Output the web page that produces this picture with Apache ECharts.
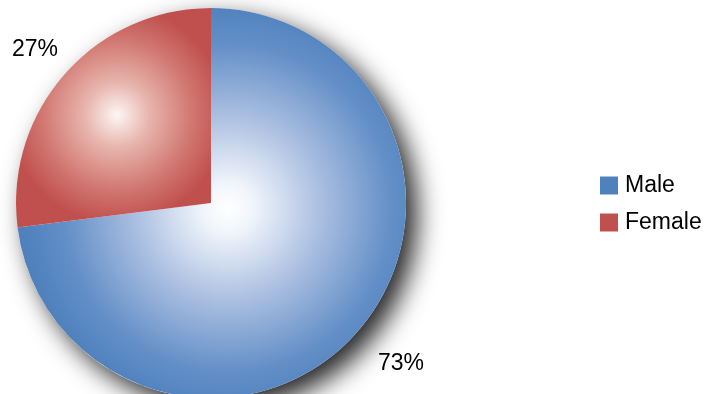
<!DOCTYPE html>
<html>
<head>
<meta charset="utf-8">
<script src="https://cdn.jsdelivr.net/npm/echarts@6/dist/echarts.min.js"></script>
<style>
  html, body { margin: 0; padding: 0; background: #fff; }
  #chart { width: 705px; height: 394px; }
</style>
</head>
<body>
<div id="chart"></div>
<script>
// Share of respondents by gender
const categories = ['Male', 'Female'];
const shares = [73, 27];
const baseColors = ['#4F81BD', '#C0504D'];

const chart = echarts.init(document.getElementById('chart'), null, { renderer: 'canvas' });

const CX = 211, CY = 203, R = 195;
const FONT = '"Liberation Sans", Arial, sans-serif';

// Shaded fills: each slice brightens towards its own highlight spot
const fills = [
  new echarts.graphic.RadialGradient(228, 208, 205, [
    { offset: 0, color: '#ffffff' },
    { offset: 0.12, color: '#f1f5fb' },
    { offset: 0.45, color: '#abbfe1' },
    { offset: 0.8, color: '#638fc7' },
    { offset: 1, color: '#4F81BD' }
  ], true),
  new echarts.graphic.RadialGradient(117, 115, 108, [
    { offset: 0, color: '#fdf6f4' },
    { offset: 0.3, color: '#e7b5ad' },
    { offset: 0.7, color: '#d17670' },
    { offset: 1, color: '#C0504D' }
  ], true)
];

// Label anchor points outside the disc
const labelPos = [[401, 364], [35, 50]];

chart.setOption({
  animation: false,
  backgroundColor: '#ffffff',
  legend: {
    data: categories,
    orient: 'vertical',
    left: 600,
    top: 174,
    padding: 0,
    itemWidth: 18,
    itemHeight: 18,
    itemGap: 14,
    icon: 'rect',
    selectedMode: false,
    textStyle: { fontFamily: FONT, fontSize: 23, color: '#000', lineHeight: 18, padding: [0, 0, 0, 2] }
  },
  series: [
    {
      // backing disc that casts the drop shadow
      type: 'pie',
      silent: true,
      center: [CX, CY],
      radius: R,
      label: { show: false },
      labelLine: { show: false },
      itemStyle: {
        color: '#ffffff',
        shadowColor: 'rgba(0,0,0,0.85)',
        shadowBlur: 26,
        shadowOffsetX: 11,
        shadowOffsetY: 11
      },
      data: [{ value: 1, name: 'disc' }]
    },
    {
      type: 'pie',
      center: [CX, CY],
      radius: R,
      startAngle: 90,
      clockwise: true,
      avoidLabelOverlap: false,
      label: {
        show: true,
        position: 'inside',
        formatter: '{d}%',
        fontFamily: FONT,
        fontSize: 23,
        color: '#000',
        overflow: 'none'
      },
      labelLine: { show: false },
      labelLayout: function (p) {
        const pos = labelPos[p.dataIndex];
        return { x: pos[0], y: pos[1], align: 'center', verticalAlign: 'middle' };
      },
      data: categories.map((name, i) => ({
        name: name,
        value: shares[i],
        itemStyle: { color: fills[i] }
      })),
      color: baseColors
    }
  ]
});
</script>
</body>
</html>
